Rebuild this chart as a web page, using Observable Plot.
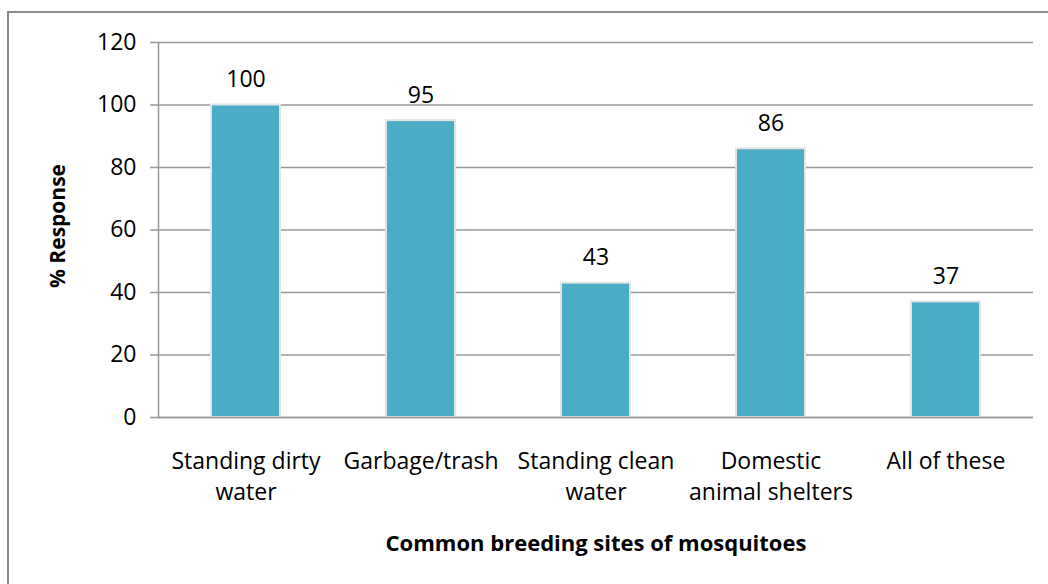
<!DOCTYPE html>
<html><head><meta charset="utf-8">
<script src="https://cdn.jsdelivr.net/npm/d3@7"></script>
<script src="https://cdn.jsdelivr.net/npm/@observablehq/plot@0.6"></script>
<style>
body{margin:0;background:#fff;overflow:hidden;}
#wrap{position:relative;width:1048px;height:584px;}
#border{position:absolute;left:7px;top:11px;width:1100px;height:700px;border:2px solid #8a8a8a;pointer-events:none;z-index:2;}
</style></head><body><div id="wrap"><div id="border"></div></div>
<script>
const categories = ["Standing dirty water","Garbage/trash","Standing clean water","Domestic animal shelters","All of these"];
const values = [100,95,43,86,37];
const tickLabels = ["Standing dirty\nwater","Garbage/trash","Standing clean\nwater","Domestic\nanimal shelters","All of these"];
const yTicks = [0,20,40,60,80,100,120];
const xTitle = "Common breeding sites of mosquitoes";
const yTitle = "% Response";

const data = categories.map((c,i)=>({category:c, value:values[i], label:tickLabels[i]}));
const font = "'Open Sans', Lato, sans-serif";

const chart = Plot.plot({
  width:1048, height:584,
  marginLeft:158, marginRight:15, marginTop:42, marginBottom:167,
  style:{fontFamily:font, fontSize:"23px", color:"#000", background:"transparent"},
  x:{domain:categories, paddingInner:0.606, paddingOuter:0.303},
  y:{domain:[0,120]},
  marks:[
    Plot.gridY(yTicks,{stroke:"#999", strokeOpacity:1, strokeWidth:1.5}),
    Plot.axisY(yTicks,{tickSize:8, tickPadding:14, stroke:"#999", strokeWidth:1.5, fontSize:23, fill:"#000", label:null}),
    Plot.axisX({tickSize:0, tickPadding:29, fontSize:23, fill:"#000", lineHeight:1.35, tickFormat:(d)=>tickLabels[categories.indexOf(d)], label:null}),
    Plot.frame({anchor:"left", stroke:"#999", strokeWidth:1.5}),
    Plot.barY(data,{x:"category", y:"value", fill:"#4BACC6", stroke:"#e4e4e4", strokeWidth:2}),
    Plot.ruleY([0],{stroke:"#999", strokeWidth:1.5}),
    Plot.text(data,{x:"category", y:"value", text:d=>String(d.value), lineAnchor:"bottom", dy:-18, fontSize:23, fill:"#000"}),
    Plot.text([xTitle],{frameAnchor:"bottom", text:d=>d, dy:133, fontSize:22, fontWeight:"bold", fill:"#000"}),
    Plot.text([yTitle],{frameAnchor:"left", textAnchor:"middle", text:d=>d, rotate:-90, dx:-100, dy:-4, fontSize:21, fontWeight:"bold", fill:"#000"})
  ]
});
document.getElementById("wrap").appendChild(chart);
chart.style.position="absolute"; chart.style.left="0"; chart.style.top="0";
</script></body></html>
